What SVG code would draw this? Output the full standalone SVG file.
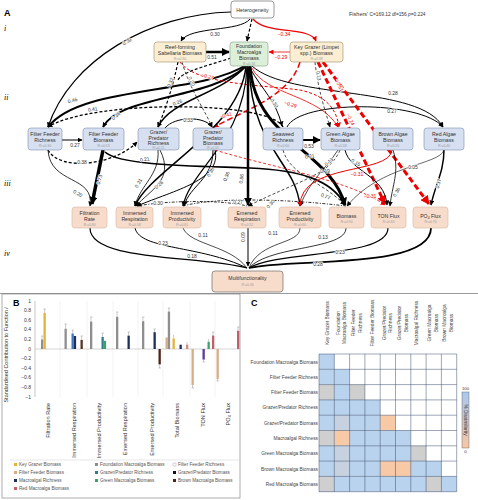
<svg xmlns="http://www.w3.org/2000/svg" width="478" height="500" viewBox="0 0 478 500">
<defs>
<marker id="ab" viewBox="0 0 10 10" refX="9" refY="5" markerWidth="5" markerHeight="5" markerUnits="userSpaceOnUse" orient="auto"><path d="M0,0 L10,5 L0,10 z" fill="#000"/></marker>
<marker id="abL" viewBox="0 0 10 10" refX="9" refY="5" markerWidth="8" markerHeight="8" markerUnits="userSpaceOnUse" orient="auto"><path d="M0,0 L10,5 L0,10 z" fill="#000"/></marker>
<marker id="ar" viewBox="0 0 10 10" refX="9" refY="5" markerWidth="5" markerHeight="5" markerUnits="userSpaceOnUse" orient="auto"><path d="M0,0 L10,5 L0,10 z" fill="#e00"/></marker>
<marker id="arL" viewBox="0 0 10 10" refX="9" refY="5" markerWidth="9" markerHeight="9" markerUnits="userSpaceOnUse" orient="auto"><path d="M0,0 L10,5 L0,10 z" fill="#e00"/></marker>
<linearGradient id="cb" x1="0" y1="0" x2="0" y2="1"><stop offset="0" stop-color="#a9c8ee"/><stop offset="1" stop-color="#f6c6a6"/></linearGradient>
</defs>
<style>
text{font-family:"Liberation Sans",Arial,sans-serif}
.n{font-size:5.2px;fill:#333;text-anchor:middle}
.r2{font-size:3.4px;fill:#999;text-anchor:middle}
.y{fill:#fbeed2;stroke:#9d8c68;stroke-width:0.6}
.g{fill:#dcefd9;stroke:#879f87;stroke-width:0.6}
.b{fill:#d6e0f1;stroke:#7e8eab;stroke-width:0.6}
.p{fill:#f8dccb;stroke:#d5b7a3;stroke-width:0.6}
.w{fill:#fff;stroke:#555;stroke-width:0.6}
.e{fill:none;stroke:#000}
.er{fill:none;stroke:#e00}
.d{stroke-dasharray:3,2}
.dd{stroke-dasharray:6,3}
.dt{stroke-dasharray:3,1.5,1,1.5}
.l{font-size:5px;fill:#333;text-anchor:middle;paint-order:stroke;stroke:#fff;stroke-width:1.2}
.lr{font-size:5px;fill:#e00;text-anchor:middle;paint-order:stroke;stroke:#fff;stroke-width:1.2}
.rn{font-size:8px;font-style:italic;font-family:"Liberation Serif",serif}
.t{font-size:5.5px;fill:#333}
.lg{font-size:4.6px;fill:#555}
.cl{font-size:4.8px;fill:#444}
.bar{stroke:none}
.eb{stroke:#999;stroke-width:0.5;fill:none}
.c{stroke:#3e4f6d;stroke-width:0.5}
</style>
<rect width="478" height="500" fill="#fff"/>
<text x="4" y="16" font-size="9" font-weight="bold">A</text>
<text x="4" y="31" class="rn">i</text>
<text x="4" y="100" class="rn">ii</text>
<text x="4" y="186" class="rn">iii</text>
<text x="4" y="256" class="rn">iv</text>
<text x="349" y="16" font-size="5.5" fill="#333">Fishers' <tspan font-size="4.8">C=169.12 df=156 <tspan font-style="italic">p</tspan>=0.224</tspan></text>

<g id="connectors">
<path class="e" stroke-width="1.2" d="M231,12 C150,14 70,60 48,127" marker-end="url(#ab)"/>
<path class="e" stroke-width="1" d="M250,19 C240,32 190,26 181,41" marker-end="url(#ab)"/>
<path class="e d" stroke-width="1.2" d="M252,19 L247,41" marker-end="url(#ab)"/>
<path class="er" stroke-width="1.2" d="M253,19 C266,35 310,26 316,41" marker-end="url(#ar)"/>
<path class="e" stroke-width="2.5" d="M206,52 L229,52" marker-end="url(#abL)"/>
<path class="er" stroke-width="0.8" d="M290,52 L269,52" marker-end="url(#ar)"/>
<path class="e" stroke-width="2" d="M246,65 C200,95 80,85 48,127" marker-end="url(#ab)"/>
<path class="e" stroke-width="2" d="M246,66 C210,100 120,95 103,127" marker-end="url(#ab)"/>
<path class="e" stroke-width="1.5" d="M246,66 C220,95 170,100 158,127" marker-end="url(#ab)"/>
<path class="e d" stroke-width="1.3" d="M283,127 C270,100 90,100 48,127" marker-end="url(#ab)"/>
<path class="e d" stroke-width="1.2" d="M178,62 C172,90 165,110 158,127" marker-end="url(#ab)"/>
<path class="e d" stroke-width="0.7" d="M182,62 C190,90 205,110 212,127" marker-end="url(#ab)"/>
<path class="e d" stroke-width="1.2" d="M231,58 C200,68 182,72 178,80"/>
<path class="er d" stroke-width="1" d="M180,62 C195,84 260,85 300,90 C322,95 336,105 339,127" marker-end="url(#ar)"/>
<path class="e" stroke-width="1" d="M165,128 C175,116 205,116 212,127" marker-end="url(#ab)"/>
<path class="er dd" stroke-width="1.5" d="M300,62 C290,95 250,108 214,127" marker-end="url(#ar)"/>
<path class="e" stroke-width="1" d="M250,68 C262,90 276,100 282,126" marker-end="url(#ab)"/>
<path class="er" stroke-width="0.8" d="M252,68 C265,95 320,95 338,127" marker-end="url(#ar)"/>
<path class="e" stroke-width="1" d="M252,66 C290,100 420,85 443,127" marker-end="url(#ab)"/>
<path class="e" stroke-width="1" d="M287,127 C300,100 420,100 443,127" marker-end="url(#ab)"/>
<path class="e d" stroke-width="0.7" d="M315,62 C318,90 325,110 330,127" marker-end="url(#ab)"/>
<path class="er dd" stroke-width="3" d="M318,62 L385,204" marker-end="url(#arL)"/>
<path class="er dd" stroke-width="3" d="M323,62 L429,204" marker-end="url(#arL)"/>
<path class="e" stroke-width="1" d="M62,140 L82,140" marker-end="url(#ab)"/>
<path class="e" stroke-width="2" d="M303,140 L320,140" marker-end="url(#abL)"/>
<path class="e" stroke-width="0.8" d="M48,150 C50,185 95,175 90,206" marker-end="url(#ab)"/>
<path class="e d" stroke-width="1.3" d="M48,150 C60,172 115,165 137,142" marker-end="url(#ab)"/>
<path class="e" stroke-width="3.5" d="M103,150 L92,204" marker-end="url(#abL)"/>
<path class="e" stroke-width="1.6" d="M105,152 C120,166 200,166 250,168 C300,170 332,180 345,205" marker-end="url(#ab)"/>
<path class="e" stroke-width="0.8" d="M158,150 C160,175 140,185 135,206" marker-end="url(#ab)"/>
<path class="e" stroke-width="0.8" d="M160,150 C175,180 150,190 136,206" marker-end="url(#ab)"/>
<path class="e" stroke-width="1.5" d="M246,66 C240,130 150,170 135,206" marker-end="url(#ab)"/>
<path class="e" stroke-width="1.2" d="M247,66 C245,140 190,170 183,206" marker-end="url(#ab)"/>
<path class="e" stroke-width="2.5" d="M248,66 L248,205" marker-end="url(#abL)"/>
<path class="e" stroke-width="1.5" d="M249,66 C252,150 295,160 300,206" marker-end="url(#ab)"/>
<path class="e" stroke-width="3" d="M250,66 C255,140 330,150 345,205" marker-end="url(#abL)"/>
<path class="e" stroke-width="1" d="M213,150 C213,180 190,185 184,206" marker-end="url(#ab)"/>
<path class="e" stroke-width="1" d="M215,150 C222,180 175,190 137,206" marker-end="url(#ab)"/>
<path class="e dt" stroke-width="0.8" d="M137,206 C170,200 225,200 247,206"/>
<path class="e dt" stroke-width="0.8" d="M183,206 C210,198 280,198 346,206"/>
<path class="e d" stroke-width="0.7" d="M283,150 C290,175 320,180 345,205" marker-end="url(#ab)"/>
<path class="e d" stroke-width="0.7" d="M340,150 C330,175 300,180 248,206" marker-end="url(#ab)"/>
<path class="e" stroke-width="0.7" d="M338,150 C325,170 310,180 300,206" marker-end="url(#ab)"/>
<path class="er" stroke-width="1" d="M392,150 C390,175 300,162 300,206" marker-end="url(#ar)"/>
<path class="er d" stroke-width="0.8" d="M215,150 C262,165 350,180 385,205" marker-end="url(#ar)"/>
<path class="e" stroke-width="1" d="M345,150 C350,172 385,175 387,205" marker-end="url(#ab)"/>
<path class="e" stroke-width="0.8" d="M393,150 C400,172 392,185 390,206" marker-end="url(#ab)"/>
<path class="e" stroke-width="1.5" d="M444,150 C444,172 435,185 431,205" marker-end="url(#ab)"/>
<path class="e" stroke-width="0.6" d="M444,150 C440,165 380,165 347,206" marker-end="url(#ab)"/>
<path class="e" stroke-width="1.2" d="M90,228 C90,262 200,255 247,268"/>
<path class="e" stroke-width="1" d="M135,228 C140,250 200,245 247,268"/>
<path class="e" stroke-width="0.7" d="M183,228 C190,245 230,245 247,268"/>
<path class="e" stroke-width="1" d="M248,228 L248,266" marker-end="url(#ab)"/>
<path class="e" stroke-width="0.7" d="M300,228 C300,245 260,240 249,268"/>
<path class="e" stroke-width="0.8" d="M346,228 C346,250 270,245 249,268"/>
<path class="e" stroke-width="1.2" d="M388,228 C388,258 280,250 249,268"/>
<path class="e" stroke-width="1.8" d="M431,228 C431,270 290,258 249,268"/>
</g>
<g id="edge-labels">
<text class="l" x="128" y="43" transform="rotate(-32 128 43)">0.39</text>
<text class="l" x="215" y="36">0.30</text>
<text class="lr" x="284" y="36">−0.34</text>
<text class="l" x="212" y="59">0.51</text>
<text class="lr" x="281" y="59">−0.29</text>
<text class="lr" x="207" y="78" transform="rotate(15 207 78)">−0.27</text>
<text class="l" x="172" y="83" transform="rotate(-70 172 83)">0.32</text>
<text class="l" x="190" y="82" transform="rotate(65 190 82)">0.20</text>
<text class="l" x="73" y="102" transform="rotate(-15 73 102)">0.46</text>
<text class="l" x="93" y="111" transform="rotate(-8 93 111)">0.41</text>
<text class="l" x="117" y="117" transform="rotate(-40 117 117)">0.36</text>
<text class="l" x="178" y="104" transform="rotate(-20 178 104)">0.26</text>
<text class="l" x="188" y="122">0.33</text>
<text class="lr" x="226" y="117" transform="rotate(-15 226 117)">−0.41</text>
<text class="l" x="273" y="104" transform="rotate(55 273 104)">0.30</text>
<text class="lr" x="290" y="106" transform="rotate(15 290 106)">−0.29</text>
<text class="l" x="393" y="95">0.28</text>
<text class="l" x="392" y="113">0.27</text>
<text class="l" x="317" y="76" transform="rotate(80 317 76)">0.13</text>
<text class="lr" x="338" y="86" transform="rotate(65 338 86)">−0.51</text>
<text class="lr" x="349" y="120" transform="rotate(65 349 120)">−0.24</text>
<text class="l" x="75" y="147">0.27</text>
<text class="l" x="309" y="148">0.53</text>
<text class="l" x="77" y="195" transform="rotate(30 77 195)">0.20</text>
<text class="l" x="82" y="164">0.38</text>
<text class="l" x="101" y="180" transform="rotate(-75 101 180)">0.73</text>
<text class="l" x="145" y="161" transform="rotate(-8 145 161)">0.21</text>
<text class="l" x="140" y="184" transform="rotate(-60 140 184)">0.21</text>
<text class="l" x="160" y="186" transform="rotate(-40 160 186)">0.26</text>
<text class="l" x="158" y="205">0.30</text>
<text class="l" x="212" y="173" transform="rotate(-60 212 173)">0.35</text>
<text class="l" x="228" y="177" transform="rotate(-70 228 177)">0.36</text>
<text class="l" x="243" y="179" transform="rotate(-80 243 179)">0.86</text>
<text class="l" x="238" y="204">0.27</text>
<text class="l" x="272" y="205" transform="rotate(-50 272 205)">0.30</text>
<text class="l" x="310" y="158" transform="rotate(-10 310 158)">0.21</text>
<text class="l" x="330" y="163" transform="rotate(-40 330 163)">0.13</text>
<text class="l" x="325" y="173">0.19</text>
<text class="l" x="355" y="164" transform="rotate(30 355 164)">0.15</text>
<text class="lr" x="357" y="176">−0.31</text>
<text class="l" x="413" y="169">0.05</text>
<text class="l" x="325" y="198" transform="rotate(20 325 198)">0.77</text>
<text class="lr" x="370" y="198">−0.31</text>
<text class="l" x="398" y="193" transform="rotate(-60 398 193)">0.36</text>
<text class="l" x="440" y="184" transform="rotate(-75 440 184)">0.37</text>
<text class="l" x="163" y="245">0.23</text>
<text class="l" x="192" y="258">0.18</text>
<text class="l" x="203" y="237">0.11</text>
<text class="l" x="245" y="237" transform="rotate(-90 245 237)">0.09</text>
<text class="l" x="273" y="235">0.11</text>
<text class="l" x="323" y="239">0.13</text>
<text class="l" x="340" y="254">0.23</text>
<text class="l" x="318" y="266">0.28</text>
</g>

<g id="heterogeneity"><rect class="w" x="231" y="1" width="43" height="17" rx="3"/><text class="n" x="252.5" y="11.5">Heterogeneity</text></g>
<g id="reef"><rect class="y" x="154" y="42" width="52" height="20" rx="3"/><text class="n" x="180" y="48.5">Reef-forming</text><text class="n" x="180" y="54.5">Sabellaria Biomass</text><text class="r2" x="180" y="60">R²=0.30</text></g>
<g id="foundation"><rect class="g" x="230" y="42" width="38" height="24" rx="3"/><text class="n" x="249" y="48">Foundation</text><text class="n" x="249" y="54">Macroalga</text><text class="n" x="249" y="60">Biomass</text><text class="r2" x="249" y="64.5">R²=0.34</text></g>
<g id="keygrazer"><rect class="y" x="290" y="42" width="53" height="20" rx="3"/><text class="n" x="316.5" y="48.5">Key Grazer (Limpet</text><text class="n" x="316.5" y="54.5">spp.) Biomass</text><text class="r2" x="316.5" y="60">R²=0.38</text></g>

<g id="ffr"><rect class="b" x="28" y="128" width="34" height="22" rx="3"/><text class="n" x="45" y="135.5">Filter Feeder</text><text class="n" x="45" y="141.5">Richness</text><text class="r2" x="45" y="147">R²=0.30</text></g>
<g id="ffb"><rect class="b" x="83" y="128" width="41" height="22" rx="3"/><text class="n" x="103.5" y="135.5">Filter Feeder</text><text class="n" x="103.5" y="141.5">Biomass</text><text class="r2" x="103.5" y="147">R²=0.53</text></g>
<g id="gpr"><rect class="b" x="138" y="128" width="41" height="22" rx="3"/><text class="n" x="158.5" y="134">Grazer/</text><text class="n" x="158.5" y="139.5">Predator</text><text class="n" x="158.5" y="145">Richness</text><text class="r2" x="158.5" y="149">R²=0.11</text></g>
<g id="gpb"><rect class="b" x="193" y="128" width="40" height="22" rx="3"/><text class="n" x="213" y="134">Grazer/</text><text class="n" x="213" y="139.5">Predator</text><text class="n" x="213" y="145">Biomass</text><text class="r2" x="213" y="149">R²=0.55</text></g>
<g id="swr"><rect class="b" x="263" y="128" width="40" height="22" rx="3"/><text class="n" x="283" y="135.5">Seaweed</text><text class="n" x="283" y="141.5">Richness</text><text class="r2" x="283" y="147">R²=0.60</text></g>
<g id="gab"><rect class="b" x="321" y="128" width="39" height="22" rx="3"/><text class="n" x="340.5" y="135.5">Green Algae</text><text class="n" x="340.5" y="141.5">Biomass</text><text class="r2" x="340.5" y="147">R²=0.33</text></g>
<g id="bab"><rect class="b" x="373" y="128" width="40" height="22" rx="3"/><text class="n" x="393" y="135.5">Brown Algae</text><text class="n" x="393" y="141.5">Biomass</text><text class="r2" x="393" y="147">R²=0.20</text></g>
<g id="rab"><rect class="b" x="424" y="128" width="40" height="22" rx="3"/><text class="n" x="444" y="135.5">Red Algae</text><text class="n" x="444" y="141.5">Biomass</text><text class="r2" x="444" y="147">R²=0.40</text></g>

<g id="filt"><rect class="p" x="72" y="207" width="35" height="21" rx="3"/><text class="n" x="89.5" y="214.5">Filtration</text><text class="n" x="89.5" y="220.5">Rate</text><text class="r2" x="89.5" y="225.5">R²=0.80</text></g>
<g id="imr"><rect class="p" x="116" y="207" width="37" height="21" rx="3"/><text class="n" x="134.5" y="214.5">Immersed</text><text class="n" x="134.5" y="220.5">Respiration</text><text class="r2" x="134.5" y="225.5">R²=0.58</text></g>
<g id="imp"><rect class="p" x="163" y="207" width="38" height="21" rx="3"/><text class="n" x="182" y="214.5">Immersed</text><text class="n" x="182" y="220.5">Productivity</text><text class="r2" x="182" y="225.5">R²=0.61</text></g>
<g id="emr"><rect class="p" x="228" y="207" width="38" height="21" rx="3"/><text class="n" x="247" y="214.5">Emersed</text><text class="n" x="247" y="220.5">Respiration</text><text class="r2" x="247" y="225.5">R²=0.52</text></g>
<g id="emp"><rect class="p" x="279" y="207" width="42" height="21" rx="3"/><text class="n" x="300" y="214.5">Emersed</text><text class="n" x="300" y="220.5">Productivity</text><text class="r2" x="300" y="225.5">R²=0.60</text></g>
<g id="bio"><rect class="p" x="329" y="207" width="35" height="21" rx="3"/><text class="n" x="346.5" y="217.5">Biomass</text><text class="r2" x="346.5" y="222.5">R²=0.90</text></g>
<g id="ton"><rect class="p" x="371" y="207" width="35" height="21" rx="3"/><text class="n" x="388.5" y="217.5">TON Flux</text><text class="r2" x="388.5" y="222.5">R²=0.60</text></g>
<g id="po4"><rect class="p" x="413" y="207" width="35" height="21" rx="3"/><text class="n" x="430.5" y="217.5">PO<tspan font-size="3.5" dy="1">4</tspan><tspan dy="-1"> Flux</tspan></text><text class="r2" x="430.5" y="222.5">R²=0.74</text></g>
<g id="multi"><rect x="212" y="271" width="71" height="21" rx="3" fill="#f8dccb" stroke="#555" stroke-width="0.6"/><text class="n" x="247.5" y="280">Multifunctionality</text><text class="r2" x="247.5" y="285.5">R²=0.36</text></g>

<line x1="0" y1="293.5" x2="478" y2="293.5" stroke="#555" stroke-width="0.6"/>

<g id="panelB">
<rect x="2" y="294" width="238" height="204" fill="none" stroke="#777" stroke-width="0.6"/>
<text x="13" y="306" font-size="9" font-weight="bold">B</text>
<text x="8" y="355" font-size="5.5" fill="#333" text-anchor="middle" transform="rotate(-90 8 355)">Standardised Contribution to Function <tspan font-style="italic">i</tspan></text>
<g stroke="#e6e6e6" stroke-width="0.5">
<line x1="60" y1="301" x2="60" y2="397"/><line x1="87" y1="301" x2="87" y2="397"/><line x1="113" y1="301" x2="113" y2="397"/><line x1="138" y1="301" x2="138" y2="397"/><line x1="163" y1="301" x2="163" y2="397"/><line x1="190" y1="301" x2="190" y2="397"/><line x1="215" y1="301" x2="215" y2="397"/>
</g>
<line x1="35" y1="301" x2="35" y2="397" stroke="#888" stroke-width="0.5"/>
<line x1="35" y1="349" x2="240" y2="349" stroke="#aaa" stroke-width="0.5"/>
<g font-size="5" fill="#333" text-anchor="end">
<text x="31" y="302.5">1</text><text x="31" y="312">0.8</text><text x="31" y="321.7">0.6</text><text x="31" y="331.3">0.4</text><text x="31" y="341">0.2</text><text x="31" y="350.5">0</text><text x="31" y="360">−0.2</text><text x="31" y="369.7">−0.4</text><text x="31" y="379.3">−0.6</text><text x="31" y="389">−0.8</text><text x="31" y="398.5">−1</text>
</g>
<g class="bar">
<rect x="41" y="339.4" width="2.3" height="9.6" fill="#8e8e8e"/>
<rect x="43.5" y="313" width="2.3" height="36" fill="#e3b23c"/>
<rect x="64.5" y="328.8" width="2.3" height="20.2" fill="#8e8e8e"/>
<rect x="71.5" y="333.6" width="2.3" height="15.4" fill="#3a78c0"/>
<rect x="73.8" y="336" width="2.3" height="13" fill="#1e2f5a"/>
<rect x="80.5" y="339.9" width="2.3" height="9.1" fill="#5a3322"/>
<rect x="90" y="321.6" width="2.3" height="27.4" fill="#8e8e8e"/>
<rect x="101.5" y="337" width="2.3" height="12" fill="#2f7d8c"/>
<rect x="103.8" y="340.8" width="2.3" height="8.2" fill="#3aa36a"/>
<rect x="116" y="316.8" width="2.3" height="32.2" fill="#8e8e8e"/>
<rect x="127.5" y="335.6" width="2.3" height="13.4" fill="#1e2f5a"/>
<rect x="142" y="321.2" width="2.3" height="27.8" fill="#8e8e8e"/>
<rect x="153.5" y="332.2" width="2.3" height="16.8" fill="#1e2f5a"/>
<rect x="158.5" y="349" width="2.3" height="15.4" fill="#4a2418"/>
<rect x="165.5" y="337.5" width="2.3" height="11.5" fill="#d6ad86"/>
<rect x="167.8" y="311.6" width="2.3" height="37.4" fill="#8e8e8e"/>
<rect x="172.5" y="338.4" width="2.3" height="10.6" fill="#e3b23c"/>
<rect x="179.5" y="344.7" width="2.3" height="4.3" fill="#1e2f5a"/>
<rect x="186" y="344.7" width="2.3" height="4.3" fill="#c98f84"/>
<rect x="191.5" y="349" width="2.3" height="36" fill="#d6ad86"/>
<rect x="202.5" y="349" width="2.3" height="10.6" fill="#5b3c9c"/>
<rect x="207.5" y="341.8" width="2.3" height="7.2" fill="#3aa36a"/>
<rect x="212" y="335.6" width="2.3" height="13.4" fill="#c0606e"/>
<rect x="216.5" y="349" width="2.3" height="29.8" fill="#d6ad86"/>
<rect x="237" y="330.8" width="2.3" height="18.2" fill="#c0606e"/>
</g>
<path class="eb" d="M42,336v3M41,336h2.5M44.6,309v4M43.5,309h2.5M65.6,324v5M64.5,324h2.5M72.6,330v4M71.5,330h2.5M81.6,336v4M80.5,336h2.5M91,317v5M90,317h2.5M102.5,333v4M101.5,333h2.5M117,312v5M116,312h2.5M128.5,332v4M127.5,332h2.5M143,317v4M142,317h2.5M154.5,329v3M153.5,329h2.5M159.6,364v4M158.5,368h2.5M168.9,308v4M167.8,308h2.5M173.6,335v3M187,342v3M192.5,385v3M191.5,388h2.5M203.5,359v3M202.5,362h2.5M208.5,339v3M213,332v4M212,332h2.5M217.5,378v3M216.5,381h2.5M238,327v4M237,327h2.5"/>
<g font-size="5.6" fill="#333" text-anchor="end">
<text x="50" y="403" transform="rotate(-90 50 403)">Filtration Rate</text>
<text x="76" y="403" transform="rotate(-90 76 403)">Immersed Respiration</text>
<text x="101" y="403" transform="rotate(-90 101 403)">Immersed Productivity</text>
<text x="127" y="403" transform="rotate(-90 127 403)">Emersed Respiration</text>
<text x="154" y="403" transform="rotate(-90 154 403)">Emersed Productivity</text>
<text x="179" y="403" transform="rotate(-90 179 403)">Total Biomass</text>
<text x="205" y="403" transform="rotate(-90 205 403)">TON Flux</text>
<text x="230" y="403" transform="rotate(-90 230 403)">PO<tspan font-size="4" dy="1">4</tspan><tspan dy="-1"> Flux</tspan></text>
</g>
<line x1="10" y1="460" x2="240" y2="460" stroke="#ccc" stroke-width="0.5"/>
<g class="lg">
<rect x="14" y="463" width="3" height="3" fill="#e3b23c"/><text x="19" y="466">Key Grazer Biomass</text>
<rect x="95" y="463" width="3" height="3" fill="#8e8e8e"/><text x="100" y="466">Foundation Macroalga Biomass</text>
<rect x="173" y="463" width="3" height="3" fill="#fff" stroke="#999" stroke-width="0.4"/><text x="178" y="466">Filter Feeder Richness</text>
<rect x="14" y="471" width="3" height="3" fill="#d6ad86"/><text x="19" y="474">Filter Feeder Biomass</text>
<rect x="95" y="471" width="3" height="3" fill="#2f7d8c"/><text x="100" y="474">Grazer/Predator Richness</text>
<rect x="173" y="471" width="3" height="3" fill="#111"/><text x="178" y="474">Grazer/Predator Biomass</text>
<rect x="14" y="479" width="3" height="3" fill="#1e2f5a"/><text x="19" y="482">Macroalgal Richness</text>
<rect x="95" y="479" width="3" height="3" fill="#3aa36a"/><text x="100" y="482">Green Macroalga Biomass</text>
<rect x="173" y="479" width="3" height="3" fill="#4a2418"/><text x="178" y="482">Brown Macroalga Biomass</text>
<rect x="14" y="487" width="3" height="3" fill="#c0606e"/><text x="19" y="490">Red Macroalga Biomass</text>
</g>
</g>

<g id="panelC">
<text x="251" y="306" font-size="9" font-weight="bold">C</text>
<g class="cl" text-anchor="middle">
<text x="328.5" y="323" transform="rotate(-90 328.5 323)">Key Grazer Biomass</text>
<text x="340" y="323" transform="rotate(-90 340 323)">Foundation</text>
<text x="346" y="323" transform="rotate(-90 346 323)">Macroalga Biomass</text>
<text x="355" y="323" transform="rotate(-90 355 323)">Filter Feeder</text>
<text x="361.5" y="323" transform="rotate(-90 361.5 323)">Richness</text>
<text x="374" y="323" transform="rotate(-90 374 323)">Filter Feeder Biomass</text>
<text x="385.5" y="323" transform="rotate(-90 385.5 323)">Grazer/Predator</text>
<text x="392" y="323" transform="rotate(-90 392 323)">Richness</text>
<text x="401" y="323" transform="rotate(-90 401 323)">Grazer/Predator</text>
<text x="407.5" y="323" transform="rotate(-90 407.5 323)">Biomass</text>
<text x="418" y="323" transform="rotate(-90 418 323)">Macroalgal Richness</text>
<text x="431" y="323" transform="rotate(-90 431 323)">Green Macroalga</text>
<text x="437.5" y="323" transform="rotate(-90 437.5 323)">Biomass</text>
<text x="446" y="323" transform="rotate(-90 446 323)">Brown Macroalga</text>
<text x="452.5" y="323" transform="rotate(-90 452.5 323)">Biomass</text>
</g>
<g class="cl" text-anchor="end">
<text x="318" y="363.5">Foundation Macroalga Biomass</text>
<text x="318" y="378.8">Filter Feeder Richness</text>
<text x="318" y="394.1">Filter Feeder Biomass</text>
<text x="318" y="409.4">Grazer/Predator Richness</text>
<text x="318" y="424.7">Grazer/Predator Biomass</text>
<text x="318" y="440">Macroalgal Richness</text>
<text x="318" y="455.3">Green Macroalga Biomass</text>
<text x="318" y="470.6">Brown Macroalga Biomass</text>
<text x="318" y="485.9">Red Macroalga Biomass</text>
</g>
<g>
<rect x="319" y="354" width="15.3" height="15.3" fill="#b9d3ee"/>
<rect x="319" y="369.3" width="15.3" height="15.3" fill="#b9d3ee"/><rect x="334.3" y="369.3" width="15.3" height="15.3" fill="#b9d3ee"/>
<rect x="319" y="384.6" width="15.3" height="15.3" fill="#cfcfcf"/><rect x="334.3" y="384.6" width="15.3" height="15.3" fill="#b9d3ee"/><rect x="349.6" y="384.6" width="15.3" height="15.3" fill="#cfcfcf"/>
<rect x="319" y="399.9" width="61.2" height="15.3" fill="#b9d3ee"/>
<rect x="319" y="415.2" width="61.2" height="15.3" fill="#b9d3ee"/><rect x="334.3" y="415.2" width="15.3" height="15.3" fill="#c6d2df"/><rect x="380.2" y="415.2" width="15.3" height="15.3" fill="#f7c9a6"/>
<rect x="319" y="430.5" width="15.3" height="15.3" fill="#cfcfcf"/><rect x="334.3" y="430.5" width="15.3" height="15.3" fill="#f7c9a6"/><rect x="349.6" y="430.5" width="61.2" height="15.3" fill="#b9d3ee"/>
<rect x="319" y="445.8" width="91.8" height="15.3" fill="#b9d3ee"/><rect x="334.3" y="445.8" width="15.3" height="15.3" fill="#c6d2df"/><rect x="410.8" y="445.8" width="15.3" height="15.3" fill="#cfcfcf"/>
<rect x="319" y="461.1" width="122.4" height="15.3" fill="#b9d3ee"/><rect x="334.3" y="461.1" width="15.3" height="15.3" fill="#c6d2df"/><rect x="380.2" y="461.1" width="30.6" height="15.3" fill="#f7c9a6"/>
<rect x="319" y="476.4" width="137.7" height="15.3" fill="#b9d3ee"/><rect x="319" y="476.4" width="15.3" height="15.3" fill="#cfcfcf"/><rect x="426.1" y="476.4" width="15.3" height="15.3" fill="#cfcfcf"/>
</g>
<g class="c">
<line x1="319" y1="354" x2="456.7" y2="354"/><line x1="319" y1="369.3" x2="456.7" y2="369.3"/><line x1="319" y1="384.6" x2="456.7" y2="384.6"/><line x1="319" y1="399.9" x2="456.7" y2="399.9"/><line x1="319" y1="415.2" x2="456.7" y2="415.2"/><line x1="319" y1="430.5" x2="456.7" y2="430.5"/><line x1="319" y1="445.8" x2="456.7" y2="445.8"/><line x1="319" y1="461.1" x2="456.7" y2="461.1"/><line x1="319" y1="476.4" x2="456.7" y2="476.4"/><line x1="319" y1="491.7" x2="456.7" y2="491.7"/>
<line x1="319" y1="354" x2="319" y2="491.7"/><line x1="334.3" y1="354" x2="334.3" y2="491.7"/><line x1="349.6" y1="354" x2="349.6" y2="491.7"/><line x1="364.9" y1="354" x2="364.9" y2="491.7"/><line x1="380.2" y1="354" x2="380.2" y2="491.7"/><line x1="395.5" y1="354" x2="395.5" y2="491.7"/><line x1="410.8" y1="354" x2="410.8" y2="491.7"/><line x1="426.1" y1="354" x2="426.1" y2="491.7"/><line x1="441.4" y1="354" x2="441.4" y2="491.7"/><line x1="456.7" y1="354" x2="456.7" y2="491.7"/>
</g>
<rect x="462" y="392" width="7" height="56" fill="url(#cb)" stroke="#555" stroke-width="0.4"/>
<text x="465.5" y="390" font-size="4.2" fill="#333" text-anchor="middle">100</text>
<text x="465.5" y="453" font-size="4.2" fill="#333" text-anchor="middle">0</text>
<text x="464" y="420" font-size="4.8" fill="#333" text-anchor="middle" transform="rotate(90 464 420)">% Dissimilarity</text>
</g>
</svg>
